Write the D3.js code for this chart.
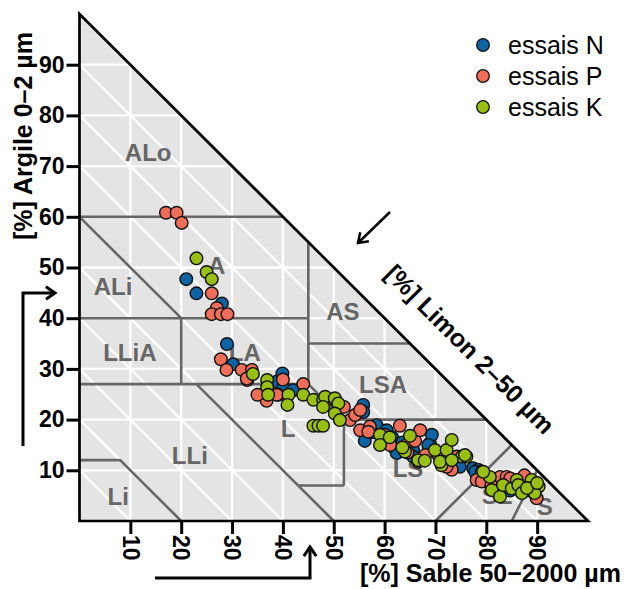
<!DOCTYPE html>
<html>
<head>
<meta charset="utf-8">
<script src="https://cdn.jsdelivr.net/npm/d3@7"></script>
<style>
  html, body { margin: 0; padding: 0; background: #fff; }
  svg { display: block; font-family: "Liberation Sans", Arial, sans-serif; }
</style>
</head>
<body>
<svg id="chart" width="626" height="589"></svg>
<script>
// Soil texture triangle: sand (x) versus clay (y), silt = 100 - sand - clay.

// Tick values shared by the sand and clay axes
const tickValues = [10, 20, 30, 40, 50, 60, 70, 80, 90];

// Series names and colours
const seriesNames = ["essais N", "essais P", "essais K"];
const seriesColors = ["#0e64a2", "#ef6e5a", "#98bf14"];

// essais N : sand %, clay %
const nSand = [21, 23, 28, 29, 30.2, 38.8, 39.9, 40.1, 42, 55.8, 56.1, 58.4, 60.4, 62, 62.4, 65.6, 65.6, 68.9, 69.3, 68.6, 74.8, 77.4, 78.4, 77.8, 79.1, 84.7, 84.5, 61.5, 57.5, 87.5, 55.8, 63.5, 71];
const nClay = [47.7, 44.9, 42.9, 34.9, 30.9, 27.5, 29.1, 26.5, 25.8, 22.9, 15.8, 18.9, 17.9, 14.3, 13.4, 14, 12.7, 15.3, 17, 15, 10.7, 10.4, 10.1, 9.7, 9.7, 6, 8, 16.5, 17.5, 7.5, 21.5, 15.5, 12.5];

// essais P : sand %, clay %
const pSand = [17, 19.1, 20.1, 26, 27, 26, 27.8, 29.1, 27.8, 28.9, 31.9, 33.9, 33, 32.9, 36.8, 35, 39.1, 40, 44, 49.9, 53.2, 54.2, 55.2, 55.2, 57.1, 56.8, 61.1, 63, 64.3, 66, 67, 66.6, 70.6, 72.2, 73.2, 72.2, 74.2, 78.1, 79.1, 82.7, 84, 84.7, 86, 89.9, 88.5, 87.5, 60, 52, 64.5, 68, 81, 83, 38.8];
const pClay = [60.8, 60.8, 58.8, 44.9, 42, 40.8, 40.8, 40.8, 31.9, 29.8, 29.8, 29.8, 27.8, 28.1, 23.7, 24.9, 24.9, 27.9, 27, 24, 19.9, 20.9, 21.9, 17.9, 18.6, 17.6, 15, 18.8, 15, 15.8, 17.9, 11.7, 13, 12, 10.1, 10.7, 12.7, 8.1, 7.8, 8.7, 8.7, 8.4, 7.5, 4.5, 6, 9, 17, 22.5, 13.5, 13, 7, 6.5, 24.9];

// essais K : sand %, clay %
const kSand = [23, 25, 26, 34.1, 36.9, 36.9, 37.1, 41.1, 40.9, 44, 46, 47.9, 48.3, 50.2, 50.9, 47.9, 50.2, 51.2, 46, 47, 47.9, 59.1, 59.1, 64, 66.6, 67.9, 69.9, 72.2, 73.2, 71.2, 75.2, 76.1, 75.8, 80.7, 79.4, 81.1, 82.7, 83.3, 85, 86, 86.3, 87, 88.9, 89.6, 90.3, 89.5, 88, 90, 61, 70.9, 73.2, 63.5, 65];
const kClay = [51.8, 49.1, 47.7, 29, 27.8, 26.4, 24.9, 24.9, 22.9, 24.9, 23.9, 23.9, 24.5, 24.2, 23.2, 22.5, 21.2, 19.9, 18.8, 18.8, 18.8, 17, 15, 13.7, 12, 11.9, 14, 14, 16, 11, 12.7, 12.7, 13, 8.7, 9.7, 6.1, 4.8, 7.1, 6.4, 8.1, 7.1, 5.5, 8.1, 6.8, 6.8, 5.5, 6.5, 7.5, 16.5, 11.7, 12, 14.5, 16.8];

// Texture class boundaries, as lists of [sand, clay] vertices
const classLines = [
  [[0, 60], [40, 60]],
  [[0, 60], [20, 40]],
  [[0, 40], [45, 40]],
  [[20, 40], [20, 27]],
  [[45, 55], [45, 27]],
  [[45, 35], [65, 35]],
  [[0, 27], [45, 27]],
  [[45, 27], [52, 20]],
  [[52, 20], [80, 20]],
  [[52, 20], [52, 7]],
  [[52, 7], [43, 7]],
  [[23, 27], [50, 0]],
  [[0, 12], [8, 12], [20, 0]],
  [[70, 0], [85, 15]],
  [[85, 0], [90, 10]]
];

// Texture class names and where each is written ([sand, clay])
const classNames = ["ALo", "A", "ALi", "LLiA", "LA", "AS", "LSA", "L", "LLi", "Li", "LS", "SL", "S"];
const classSand = [13.5, 27.0, 6.6, 9.9, 32.5, 51.8, 59.7, 41.0, 21.7, 7.6, 64.6, 82.1, 91.5];
const classClay = [72.8, 50.5, 46.2, 33.3, 33.3, 41.4, 27.0, 18.3, 13.0, 4.9, 10.3, 5.1, 2.8];

const svg = d3.select("#chart");

const x = d3.scaleLinear().domain([0, 100]).range([79.5, 588]);
const y = d3.scaleLinear().domain([0, 100]).range([521, 14]);

const line = d3.line().x(d => x(d[0])).y(d => y(d[1]));
const triangle = [[0, 0], [100, 0], [0, 100]];

svg.append("defs").append("clipPath").attr("id", "tri")
  .append("path").attr("d", line(triangle) + "Z");

// Grey triangle background
svg.append("path").attr("d", line(triangle) + "Z").attr("fill", "#e4e4e4");

// White grid: constant clay, constant sand and constant silt lines
const grid = svg.append("g").attr("clip-path", "url(#tri)")
  .attr("stroke", "#fff").attr("stroke-width", 2.3).attr("fill", "none");
tickValues.forEach(v => {
  grid.append("path").attr("d", line([[0, v], [100 - v, v]]));
  grid.append("path").attr("d", line([[v, 0], [v, 100 - v]]));
  grid.append("path").attr("d", line([[0, 100 - v], [100 - v, 0]]));
});

// Class boundaries
svg.append("g").selectAll("path").data(classLines).join("path")
  .attr("d", d => line(d))
  .attr("fill", "none").attr("stroke", "#666").attr("stroke-width", 2.6)
  .attr("stroke-linejoin", "round");

// Class names
svg.append("g").selectAll("text").data(classNames).join("text")
  .attr("x", (d, i) => x(classSand[i]))
  .attr("y", (d, i) => y(classClay[i]))
  .attr("text-anchor", "middle").attr("dy", "0.36em")
  .attr("font-size", 24).attr("font-weight", "bold").attr("fill", "#666")
  .text(d => d);

// Sample points, one layer per series
const series = [
  { sand: nSand, clay: nClay },
  { sand: pSand, clay: pClay },
  { sand: kSand, clay: kClay }
];
series.forEach((s, si) => {
  svg.append("g").selectAll("circle").data(s.sand).join("circle")
    .attr("cx", d => x(d))
    .attr("cy", (d, i) => y(s.clay[i]))
    .attr("r", 6.3)
    .attr("fill", seriesColors[si])
    .attr("stroke", "#111").attr("stroke-width", 1.4);
});

// Triangle outline
svg.append("path").attr("d", line(triangle) + "Z")
  .attr("fill", "none").attr("stroke", "#000").attr("stroke-width", 2.7)
  .attr("stroke-linejoin", "miter");

// Clay axis (left)
const yAxis = svg.append("g").attr("transform", `translate(${x(0)},0)`)
  .call(d3.axisLeft(y).tickValues(tickValues).tickSize(13).tickPadding(2));
yAxis.select(".domain").remove();
yAxis.selectAll("line").attr("stroke", "#000").attr("stroke-width", 3);
yAxis.selectAll("text").attr("font-size", 23).attr("font-weight", "bold")
  .attr("font-family", "Liberation Sans, Arial, sans-serif").attr("fill", "#000");

// Sand axis (bottom), labels turned a quarter
const xAxis = svg.append("g").attr("transform", `translate(0,${y(0)})`)
  .call(d3.axisBottom(x).tickValues(tickValues).tickSize(13));
xAxis.select(".domain").remove();
xAxis.selectAll("line").attr("stroke", "#000").attr("stroke-width", 3);
xAxis.selectAll("text")
  .attr("y", 0).attr("x", 14).attr("dy", "0.36em")
  .attr("transform", "rotate(90)").style("text-anchor", "start")
  .attr("font-size", 23).attr("font-weight", "bold")
  .attr("font-family", "Liberation Sans, Arial, sans-serif").attr("fill", "#000");

// Axis titles
const titleStyle = sel => sel.attr("font-size", 25).attr("font-weight", "bold").attr("fill", "#000");
svg.append("text").attr("transform", "translate(32,136) rotate(-90)")
  .attr("text-anchor", "middle").call(titleStyle).text("[%] Argile 0\u20132 \u00b5m");
svg.append("text").attr("x", 621).attr("y", 582)
  .attr("text-anchor", "end").call(titleStyle).text("[%] Sable 50\u22122000 \u00b5m");
svg.append("text").attr("transform", "translate(470,349) rotate(45)")
  .attr("text-anchor", "middle").attr("dy", "0.36em").call(titleStyle).text("[%] Limon 2\u201350 \u00b5m");

// Direction arrows for the three axes
const arrowHead = (tip, angle) => {
  const a = angle * Math.PI / 180, len = 11, spread = 0.6;
  return [
    [tip[0] - len * Math.cos(a - spread), tip[1] - len * Math.sin(a - spread)],
    tip,
    [tip[0] - len * Math.cos(a + spread), tip[1] - len * Math.sin(a + spread)]
  ];
};
const plain = d3.line();
const arrows = svg.append("g").attr("fill", "none").attr("stroke", "#000")
  .attr("stroke-width", 3).attr("stroke-linejoin", "miter");
arrows.append("path").attr("d", plain([[23, 446], [23, 293], [55, 293]]));
arrows.append("path").attr("d", plain(arrowHead([55, 293], 0)));
arrows.append("path").attr("d", plain([[155, 578], [310, 578], [310, 547]]));
arrows.append("path").attr("d", plain(arrowHead([310, 547], -90)));
arrows.append("path").attr("stroke-width", 2.5).attr("d", plain([[390, 212], [358, 243]]));
arrows.append("path").attr("stroke-width", 2.5).attr("d", plain(arrowHead([358, 243], 136)));

// Legend
const legend = svg.append("g").selectAll("g").data(seriesNames).join("g")
  .attr("transform", (d, i) => `translate(483,${45 + i * 31})`);
legend.append("circle").attr("r", 6.3)
  .attr("fill", (d, i) => seriesColors[i]).attr("stroke", "#111").attr("stroke-width", 1.3);
legend.append("text").attr("x", 25).attr("dy", "0.36em")
  .attr("font-size", 25).attr("fill", "#000").text(d => d);
</script>
</body>
</html>
